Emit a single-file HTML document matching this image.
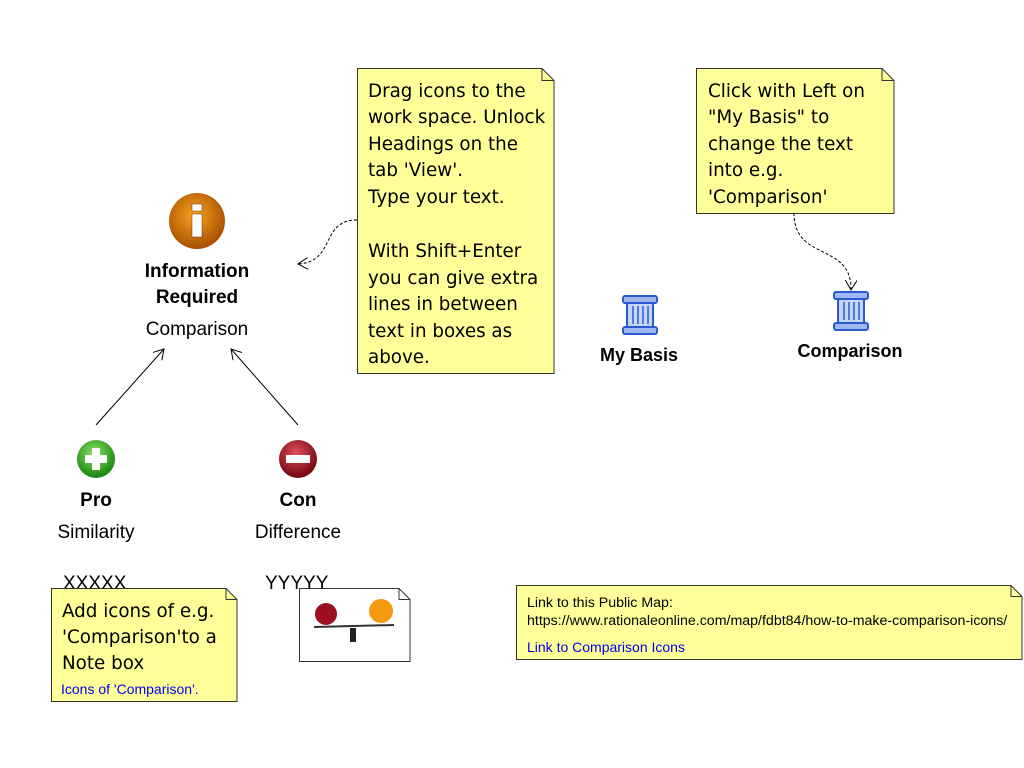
<!DOCTYPE html>
<html><head><meta charset="utf-8"><style>
html,body{margin:0;padding:0;background:#fff;}
svg{display:block}
.n{font-family:"DejaVu Sans","Liberation Sans",sans-serif;font-size:18.3px;fill:#000}
.b{font-family:"Liberation Sans",sans-serif;font-weight:bold;font-size:19px;fill:#000}
.b2{font-family:"Liberation Sans",sans-serif;font-weight:bold;font-size:18px;fill:#000}
.r{font-family:"Liberation Sans",sans-serif;font-size:19px;fill:#000}
.s{font-family:"Liberation Sans",sans-serif;font-size:14.2px;fill:#000}
.l{font-family:"Liberation Sans",sans-serif;font-size:14px;fill:#0000ee}
</style></head><body>
<svg width="1024" height="768" viewBox="0 0 1024 768" xmlns="http://www.w3.org/2000/svg">
<defs>
<radialGradient id="og" cx="45%" cy="40%" r="60%"><stop offset="0" stop-color="#f7a520"/><stop offset="1" stop-color="#a84e00"/></radialGradient>
<radialGradient id="gg" cx="45%" cy="35%" r="60%"><stop offset="0" stop-color="#8ee06a"/><stop offset="1" stop-color="#1e8a10"/></radialGradient>
<radialGradient id="rg" cx="45%" cy="35%" r="60%"><stop offset="0" stop-color="#e0505a"/><stop offset="1" stop-color="#7a0a14"/></radialGradient>
<marker id="ar" markerWidth="12" markerHeight="12" refX="10" refY="6" orient="auto" markerUnits="userSpaceOnUse"><path d="M0,0 L10,6 L0,12" fill="none" stroke="#000" stroke-width="1"/></marker>
<g id="col"><rect x="-17" y="0" width="34" height="7" rx="2" fill="#9fb8f0" stroke="#2a5ad0" stroke-width="2"/><rect x="-13" y="7" width="26" height="24" fill="#c6d6f8" stroke="#2a5ad0" stroke-width="2"/><path d="M-7,10v18M-2,10v18M3,10v18M8,10v18" stroke="#2a5ad0" stroke-width="1.5"/><rect x="-17" y="31" width="34" height="7" rx="2" fill="#9fb8f0" stroke="#2a5ad0" stroke-width="2"/></g>
</defs>
<circle cx="197" cy="221" r="28" fill="url(#og)"/>
<rect x="192" y="214" width="10" height="23" fill="#fff" stroke="#6a3000" stroke-width="0.5"/>
<rect x="192" y="204" width="10" height="7" fill="#fff" stroke="#6a3000" stroke-width="0.5"/>
<text class="b" x="197" y="277" text-anchor="middle">Information</text>
<text class="b" x="197" y="303" text-anchor="middle">Required</text>
<text class="r" x="197" y="335" text-anchor="middle">Comparison</text>
<line x1="96" y1="425" x2="164" y2="349" stroke="#000" marker-end="url(#ar)"/>
<line x1="298" y1="425" x2="231" y2="349" stroke="#000" marker-end="url(#ar)"/>
<path d="M357,220 C320,220 336,262 298,264" fill="none" stroke="#000" stroke-dasharray="3,2" marker-end="url(#ar)"/>
<path d="M794,213 C794,262 852,242 851,290" fill="none" stroke="#000" stroke-dasharray="3,2" marker-end="url(#ar)"/>
<circle cx="96" cy="459" r="19" fill="url(#gg)"/>
<rect x="92" y="448" width="8" height="22" fill="#fff"/><rect x="85" y="455" width="22" height="8" fill="#fff"/>
<text class="b" x="96" y="506" text-anchor="middle">Pro</text>
<text class="r" x="96" y="538" text-anchor="middle">Similarity</text>
<circle cx="298" cy="459" r="19" fill="url(#rg)"/>
<rect x="286" y="455" width="24" height="8" fill="#fff"/>
<text class="b" x="298" y="506" text-anchor="middle">Con</text>
<text class="r" x="298" y="538" text-anchor="middle">Difference</text>
<text class="r" x="63" y="589">XXXXX</text>
<text class="r" x="265" y="589">YYYYY</text>
<path d="M357.5,68.5H542l12,12V373.5H357.5Z" fill="#ffff99" stroke="#333"/>
<path d="M542,68.5v12h12" fill="none" stroke="#333"/>
<g class="n"><text x="368" y="97">Drag icons to the</text><text x="368" y="123">work space. Unlock</text><text x="368" y="150">Headings on the</text><text x="368" y="176">tab 'View'.</text><text x="368" y="203">Type your text.</text><text x="368" y="257">With Shift+Enter</text><text x="368" y="284">you can give extra</text><text x="368" y="310">lines in between</text><text x="368" y="337">text in boxes as</text><text x="368" y="363">above.</text></g>
<path d="M696.5,68.5H882l12,12V213.5H696.5Z" fill="#ffff99" stroke="#333"/>
<path d="M882,68.5v12h12" fill="none" stroke="#333"/>
<g class="n"><text x="708" y="97">Click with Left on</text><text x="708" y="123">"My Basis" to</text><text x="708" y="150">change the text</text><text x="708" y="176">into  e.g.</text><text x="708" y="203">'Comparison'</text></g>
<use href="#col" x="640" y="296"/>
<text class="b2" x="639" y="361" text-anchor="middle">My Basis</text>
<use href="#col" x="851" y="292"/>
<text class="b2" x="850" y="357" text-anchor="middle">Comparison</text>
<path d="M51.5,588.5H226l11,11V701.5H51.5Z" fill="#ffff99" stroke="#333"/>
<path d="M226,588.5v11h11" fill="none" stroke="#333"/>
<g class="n"><text x="62" y="617">Add icons of e.g.</text><text x="62" y="643">'Comparison'to a</text><text x="62" y="669">Note box</text></g>
<text class="l" x="61" y="694">Icons of 'Comparison'.</text>
<path d="M299.5,588.5H399l11,11V661.5H299.5Z" fill="#fff" stroke="#333"/>
<path d="M399,588.5v11h11" fill="none" stroke="#333"/>
<circle cx="326" cy="614" r="11" fill="#9a1020"/>
<circle cx="381" cy="611" r="12" fill="#f59a10"/>
<line x1="314" y1="627" x2="394" y2="625" stroke="#333" stroke-width="2"/>
<rect x="350" y="628" width="6" height="14" fill="#222"/>
<path d="M516.5,585.5H1011l11,11V659.5H516.5Z" fill="#ffff99" stroke="#333"/>
<path d="M1011,585.5v11h11" fill="none" stroke="#333"/>
<text class="s" x="527" y="607">Link to this Public Map:</text>
<text class="s" x="527" y="625">https://www.rationaleonline.com/map/fdbt84/how-to-make-comparison-icons/</text>
<text class="l" x="527" y="652">Link to Comparison Icons</text>
</svg>
</body></html>
